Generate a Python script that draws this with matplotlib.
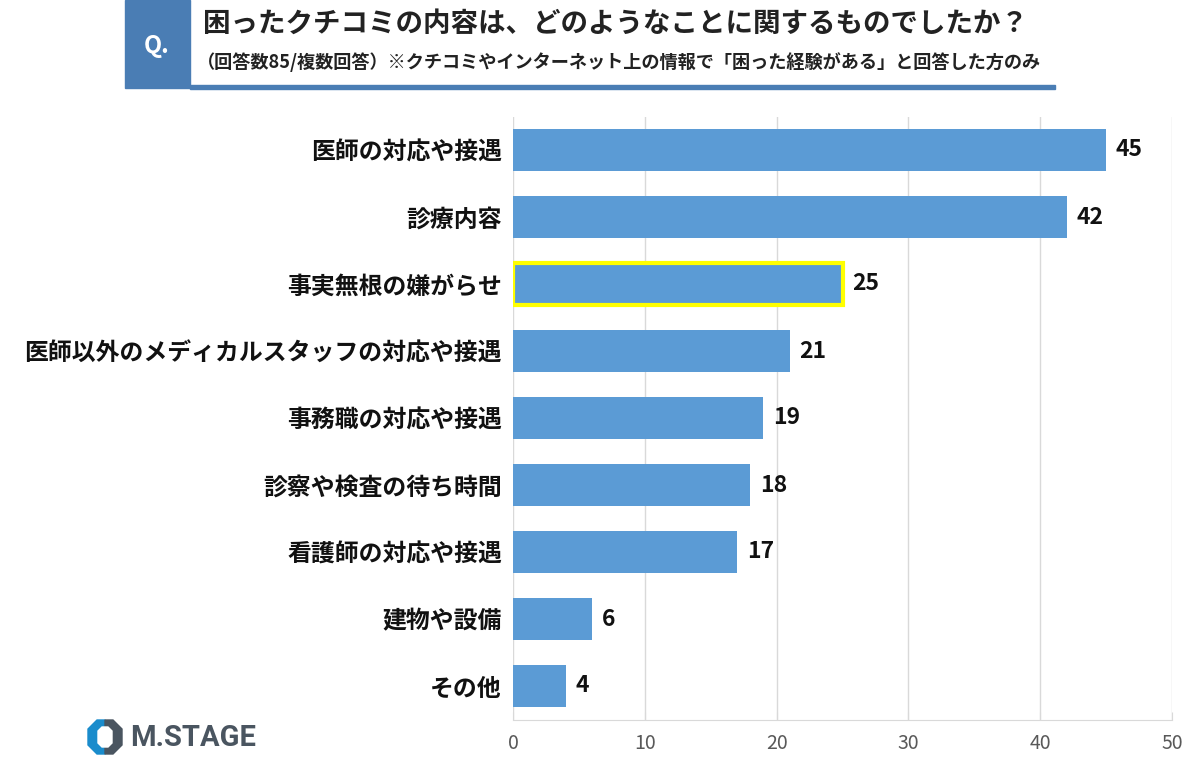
import matplotlib
matplotlib.use("Agg")
import matplotlib.pyplot as plt
from matplotlib.patches import Rectangle, Polygon

plt.rcParams['font.family'] = ['Noto Sans CJK JP', 'DejaVu Sans']

categories = ["医師の対応や接遇", "診療内容", "事実無根の嫌がらせ",
              "医師以外のメディカルスタッフの対応や接遇", "事務職の対応や接遇",
              "診察や検査の待ち時間", "看護師の対応や接遇", "建物や設備", "その他"]
values = [45, 42, 25, 21, 19, 18, 17, 6, 4]
highlight = "事実無根の嫌がらせ"
xticks = [0, 10, 20, 30, 40, 50]
title = "困ったクチコミの内容は、どのようなことに関するものでしたか？"
subtitle = "（回答数85/複数回答）※クチコミやインターネット上の情報で「困った経験がある」と回答した方のみ"

W, H = 1200, 758
fig = plt.figure(figsize=(12, 7.58), dpi=100)
ax = fig.add_axes([513 / W, 1 - 719.5 / H, 659 / W, 603 / H])

bar_color = "#5b9bd5"
ypos = list(range(len(categories)))
ax.barh(ypos, values, height=0.63, color=bar_color, zorder=3)
for y, c, v in zip(ypos, categories, values):
    if c == highlight:
        ax.barh(y, v, height=0.63, color=bar_color, edgecolor="#ffff00",
                linewidth=3, zorder=4)
    ax.text(v + 0.75, y, str(v), va="center", ha="left", fontsize=16.5,
            fontweight="bold", color="#111111", zorder=5)

ax.set_ylim(len(categories) - 0.5, -0.5)
ax.set_xlim(0, 50)
ax.set_xticks(xticks)
ax.set_xticklabels([str(t) for t in xticks], fontsize=14, color="#595959")
ax.set_yticks(ypos)
ax.set_yticklabels(categories, fontsize=17.2, fontweight="bold", color="#111111")
ax.tick_params(axis="y", length=0, pad=8)
ax.tick_params(axis="x", length=6, color="#d9d9d9", pad=10, direction="in")
ax.grid(axis="x", color="#d9d9d9", linewidth=1, zorder=0)
for s in ["top", "right", "left"]:
    ax.spines[s].set_visible(False)
ax.spines["bottom"].set_color("#d9d9d9")

# header
fig.patches.append(Rectangle((125 / W, 1 - 88 / H), 65 / W, 88 / H,
                             transform=fig.transFigure, color="#4a7db4", zorder=0))
fig.patches.append(Rectangle((190 / W, 1 - 89 / H), 865 / W, 4 / H,
                             transform=fig.transFigure, color="#4a7db4", zorder=0))
fig.text(157 / W, 1 - 46 / H, "Q.", color="white", fontsize=17, ha="center",
         va="center", fontweight="bold")
fig.text(203 / W, 1 - 24 / H, title, fontsize=19.8, fontweight="bold",
         color="#222222", ha="left", va="center")
fig.text(197 / W, 1 - 62 / H, subtitle, fontsize=13.1, fontweight="bold",
         color="#222222", ha="left", va="center")

# logo
cx, cy, r = 105, 737, 17
def px(x, y):
    return (x / W, 1 - y / H)
oct_left = [px(cx, cy - r), px(cx - 8, cy - r), px(cx - r, cy - 8), px(cx - r, cy + 8),
            px(cx - 8, cy + r), px(cx, cy + r)]
oct_right = [px(cx, cy - r), px(cx + 8, cy - r), px(cx + r, cy - 8), px(cx + r, cy + 8),
             px(cx + 8, cy + r), px(cx, cy + r)]
fig.patches.append(Polygon(oct_left, closed=True, transform=fig.transFigure, color="#1a8ccc"))
fig.patches.append(Polygon(oct_right, closed=True, transform=fig.transFigure, color="#4a5560"))
inner = [px(cx - 3, cy - 10), px(cx + 3, cy - 10), px(cx + 7, cy - 6), px(cx + 7, cy + 6),
         px(cx + 3, cy + 10), px(cx - 3, cy + 10), px(cx - 7, cy + 6), px(cx - 7, cy - 6)]
fig.patches.append(Polygon(inner, closed=True, transform=fig.transFigure, color="white"))
fig.text(130 / W, 1 - 738 / H, "M.STAGE", fontsize=21, color="#4a5560",
         ha="left", va="center", family=["Roboto", "DejaVu Sans"], fontweight="bold")

fig.savefig("out.png", dpi=100)
